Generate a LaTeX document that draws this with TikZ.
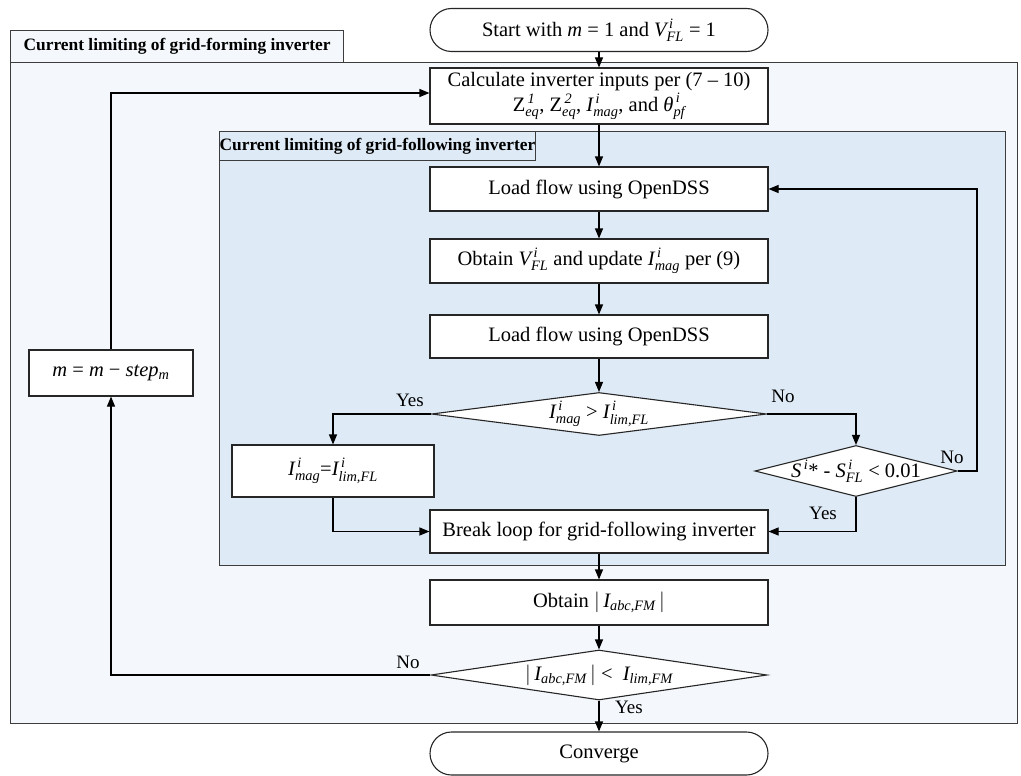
\documentclass[tikz,border=0pt]{standalone}
\usepackage{amsmath}
\usepackage{fontspec}
\setmainfont{Liberation Serif}
\usetikzlibrary{arrows.meta,shapes.geometric}
\newcommand{\iv}[1]{\textit{#1}}
\newcommand{\sps}[3]{$\iv{#1}^{\,\iv{#2}}_{\iv{#3}}$}
\definecolor{outerfill}{RGB}{244,248,252}
\definecolor{innerfill}{RGB}{222,234,245}
\definecolor{frameline}{RGB}{60,60,60}
\tikzset{
  base/.style={font=\fontsize{20.5}{25}\selectfont, inner sep=0pt, align=center},
  box/.style={base, draw=black!85, fill=white, line width=1.1pt},
  term/.style={box, rounded corners=21.5pt},
  dia/.style={diamond, draw=black!85, fill=white, line width=1.1pt, inner sep=0pt},
  frame/.style={draw=frameline, line width=1.1pt},
  flabel/.style={frame, font=\fontsize{17.4}{20}\selectfont\bfseries, inner sep=0pt, align=center},
  arr/.style={line width=1.1pt, -{Triangle[length=10pt,width=8pt]}},
  ln/.style={line width=1.1pt},
  lbl/.style={font=\fontsize{19}{22}\selectfont, inner sep=0pt}
}
\begin{document}
\begin{tikzpicture}[x=1pt,y=-1pt]
\useasboundingbox (0,0) rectangle (1021,776);
% outer frame
\node[frame, fill=outerfill, minimum width=1007, minimum height=661, anchor=north west] (outer) at (10,62) {};
\node[flabel, fill=outerfill, minimum width=333, minimum height=32, anchor=north west] (outerlbl) at (10,30) {Current limiting of grid-forming inverter};
% inner frame
\node[frame, fill=innerfill, minimum width=786, minimum height=434, anchor=north west] (inner) at (219,131) {};
\node[flabel, fill=innerfill, minimum width=286, minimum height=29, anchor=north west] (innerlbl) at (219,131) {Current limiting of grid-following inverter};

% nodes
\node[term, minimum width=338, minimum height=43] (start) at (599,30) {Start with \iv{m} = 1 and \sps{V}{i}{FL} = 1};
\node[box, minimum width=338, minimum height=56] (calc) at (599,96) {Calculate inverter inputs per (7 \textendash\ 10)\\ $\text{Z}_{\iv{eq}}^{\,\iv{1}}$, $\text{Z}_{\iv{eq}}^{\,\iv{2}}$, \sps{I}{i}{mag}, and \sps{θ}{i}{pf}};
\node[box, minimum width=338, minimum height=44] (lf1) at (599,189) {Load flow using OpenDSS};
\node[box, minimum width=338, minimum height=44] (obt) at (599,261) {Obtain \sps{V}{i}{FL} and update \sps{I}{i}{mag} per (9)};
\node[box, minimum width=338, minimum height=43] (lf2) at (599,336.5) {Load flow using OpenDSS};
\node[dia, minimum width=335, minimum height=43] (d1) at (599,414) {};
\node[base] (d1t) at (599,414) {\sps{I}{i}{mag} > \sps{I}{i}{lim,FL}};
\node[box, minimum width=202, minimum height=52] (ibox) at (333,471) {\sps{I}{i}{mag}=\sps{I}{i}{lim,FL}};
\node[dia, minimum width=202, minimum height=51] (d2) at (856,471) {};
\node[base] (d2t) at (856,471) {$\iv{S}^{\,\iv{i}}$* - \sps{S}{i}{FL} <\ 0.01};
\node[box, minimum width=338, minimum height=43] (brk) at (599,531.5) {Break loop for grid-following inverter};
\node[box, minimum width=338, minimum height=45] (obtI) at (599,602.5) {Obtain $|\,\iv{I}_{\iv{abc,FM}}\,|$};
\node[dia, minimum width=336, minimum height=50] (d3) at (599,675) {};
\node[base] (d3t) at (599,675) {$|\,\iv{I}_{\iv{abc,FM}}\,|$ <\ \ $\iv{I}_{\iv{lim,FM}}$};
\node[box, minimum width=164, minimum height=46] (mbox) at (111,373) {\iv{m} = \iv{m} − \iv{step}$_{\iv{m}}$};
\node[term, minimum width=338, minimum height=43] (conv) at (599,753.5) {Converge};

% connectors
\draw[arr] (start) -- (calc);
\draw[arr] (calc) -- (lf1);
\draw[arr] (lf1) -- (obt);
\draw[arr] (obt) -- (lf2);
\draw[arr] (lf2) -- (d1);
\draw[arr] (d1.west) -| (ibox.north);
\draw[arr] (d1.east) -| (d2.north);
\coordinate (rtop) at (977,189);
\draw[arr] (d2.east) -| (rtop) -- (lf1.east);
\draw[arr] (d2.south) |- (brk.east);
\draw[arr] (ibox.south) |- (brk.west);
\draw[arr] (brk) -- (obtI);
\draw[arr] (obtI) -- (d3);
\draw[arr] (d3.west) -| (mbox.south);
\coordinate (ltop) at (111,93);
\draw[arr] (mbox.north) -- (ltop) -- (calc.west |- ltop);
\draw[arr] (d3) -- (conv);

% labels
\node[lbl] (yes1) at (410,400) {Yes};
\node[lbl] (no1) at (783,396) {No};
\node[lbl] (no2) at (952,457) {No};
\node[lbl] (yes2) at (823,513) {Yes};
\node[lbl] (no3) at (408,662) {No};
\node[lbl] (yes3) at (629,707) {Yes};
\end{tikzpicture}
\end{document}
